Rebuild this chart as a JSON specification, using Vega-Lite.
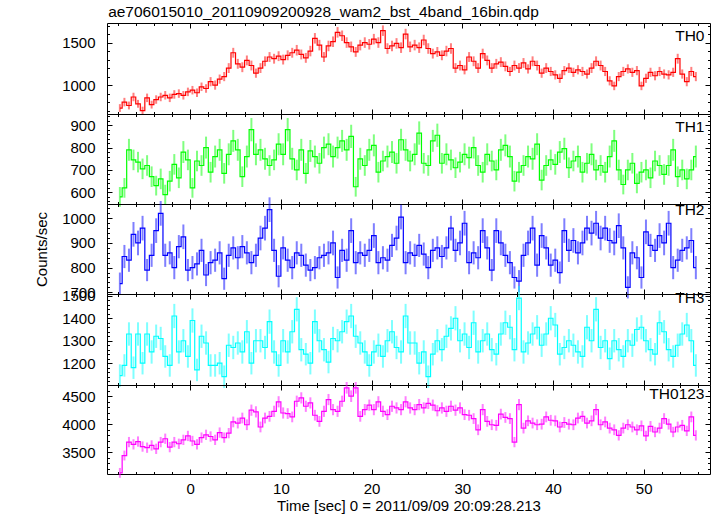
{
"$schema":"https://vega.github.io/schema/vega-lite/v6.json",
"background":"white",
"padding":{"left":34,"top":4,"right":6,"bottom":0},
"bounds":"flush",
"title":{"text":"ae706015010_20110909200928_wam2_bst_4band_16bin.qdp","anchor":"start","dx":74,"offset":2,"font":"Liberation Sans","fontSize":15.5,"fontWeight":"normal","color":"black"},
"config":{"view":{"stroke":"black","strokeWidth":1},"axis":{"domain":false,"grid":false,"tickColor":"black","tickWidth":1,"labelFont":"Liberation Sans","labelFontSize":15,"labelColor":"black","titleFont":"Liberation Sans","titleFontSize":15,"titleFontWeight":"normal","titleColor":"black","labelPadding":17,"format":"d"}},
"spacing":0,
"data":{"values":[
{"t":-7.75,"th0":730,"e0":46,"th1":580,"e1":44,"th2":735,"e2":45,"th3":1145,"e3":50,"sum":3130,"es":88},
{"t":-7.25,"th0":800,"e0":50,"th1":620,"e1":44,"th2":845,"e2":47,"th3":1190,"e3":50,"sum":3440,"es":88},
{"t":-6.75,"th0":760,"e0":46,"th1":790,"e1":49,"th2":830,"e2":47,"th3":1330,"e3":52,"sum":3680,"es":92},
{"t":-6.25,"th0":860,"e0":50,"th1":745,"e1":46,"th2":935,"e2":50,"th3":1180,"e3":50,"sum":3640,"es":92},
{"t":-5.75,"th0":780,"e0":46,"th1":735,"e1":46,"th2":900,"e2":50,"th3":1330,"e3":52,"sum":3690,"es":92},
{"t":-5.25,"th0":700,"e0":46,"th1":705,"e1":46,"th2":960,"e2":50,"th3":1200,"e3":50,"sum":3600,"es":92},
{"t":-4.75,"th0":850,"e0":50,"th1":720,"e1":46,"th2":790,"e2":45,"th3":1330,"e3":52,"sum":3580,"es":92},
{"t":-4.25,"th0":770,"e0":46,"th1":670,"e1":46,"th2":850,"e2":47,"th3":1250,"e3":52,"sum":3620,"es":92},
{"t":-3.75,"th0":830,"e0":50,"th1":630,"e1":44,"th2":950,"e2":50,"th3":1320,"e3":52,"sum":3560,"es":92},
{"t":-3.25,"th0":860,"e0":50,"th1":660,"e1":46,"th2":1020,"e2":50,"th3":1310,"e3":52,"sum":3680,"es":92},
{"t":-2.75,"th0":880,"e0":50,"th1":590,"e1":44,"th2":850,"e2":47,"th3":1230,"e3":50,"sum":3740,"es":92},
{"t":-2.25,"th0":850,"e0":50,"th1":650,"e1":46,"th2":860,"e2":47,"th3":1190,"e3":50,"sum":3590,"es":92},
{"t":-1.75,"th0":890,"e0":50,"th1":725,"e1":46,"th2":800,"e2":47,"th3":1410,"e3":54,"sum":3680,"es":92},
{"t":-1.25,"th0":900,"e0":50,"th1":665,"e1":46,"th2":885,"e2":47,"th3":1250,"e3":52,"sum":3650,"es":92},
{"t":-0.75,"th0":880,"e0":50,"th1":780,"e1":49,"th2":925,"e2":50,"th3":1300,"e3":52,"sum":3720,"es":92},
{"t":-0.25,"th0":920,"e0":50,"th1":745,"e1":46,"th2":790,"e2":45,"th3":1230,"e3":50,"sum":3790,"es":92},
{"t":0.25,"th0":940,"e0":50,"th1":620,"e1":44,"th2":800,"e2":47,"th3":1390,"e3":54,"sum":3700,"es":92},
{"t":0.75,"th0":910,"e0":50,"th1":740,"e1":46,"th2":815,"e2":47,"th3":1170,"e3":50,"sum":3640,"es":92},
{"t":1.25,"th0":980,"e0":50,"th1":720,"e1":46,"th2":870,"e2":47,"th3":1320,"e3":52,"sum":3760,"es":92},
{"t":1.75,"th0":960,"e0":50,"th1":800,"e1":49,"th2":770,"e2":45,"th3":1290,"e3":52,"sum":3810,"es":92},
{"t":2.25,"th0":1040,"e0":54,"th1":690,"e1":46,"th2":820,"e2":47,"th3":1190,"e3":50,"sum":3780,"es":92},
{"t":2.75,"th0":1000,"e0":54,"th1":760,"e1":49,"th2":830,"e2":47,"th3":1190,"e3":50,"sum":3720,"es":92},
{"t":3.25,"th0":1070,"e0":54,"th1":790,"e1":49,"th2":860,"e2":47,"th3":1200,"e3":50,"sum":3850,"es":92},
{"t":3.75,"th0":1100,"e0":54,"th1":685,"e1":46,"th2":755,"e2":45,"th3":1140,"e3":50,"sum":3760,"es":92},
{"t":4.25,"th0":1200,"e0":58,"th1":770,"e1":49,"th2":850,"e2":47,"th3":1280,"e3":52,"sum":3840,"es":92},
{"t":4.75,"th0":1380,"e0":58,"th1":830,"e1":49,"th2":880,"e2":47,"th3":1270,"e3":52,"sum":4040,"es":96},
{"t":5.25,"th0":1250,"e0":58,"th1":790,"e1":49,"th2":840,"e2":47,"th3":1290,"e3":52,"sum":4020,"es":96},
{"t":5.75,"th0":1210,"e0":58,"th1":670,"e1":46,"th2":885,"e2":47,"th3":1250,"e3":52,"sum":4110,"es":96},
{"t":6.25,"th0":1290,"e0":58,"th1":760,"e1":49,"th2":860,"e2":47,"th3":1340,"e3":52,"sum":3990,"es":96},
{"t":6.75,"th0":1230,"e0":58,"th1":880,"e1":52,"th2":820,"e2":47,"th3":1200,"e3":50,"sum":4250,"es":100},
{"t":7.25,"th0":1140,"e0":54,"th1":770,"e1":49,"th2":850,"e2":47,"th3":1300,"e3":52,"sum":4220,"es":100},
{"t":7.75,"th0":1200,"e0":58,"th1":790,"e1":49,"th2":920,"e2":50,"th3":1300,"e3":52,"sum":3950,"es":96},
{"t":8.25,"th0":1280,"e0":58,"th1":750,"e1":49,"th2":960,"e2":50,"th3":1270,"e3":52,"sum":4110,"es":96},
{"t":8.75,"th0":1330,"e0":58,"th1":720,"e1":46,"th2":1035,"e2":50,"th3":1385,"e3":54,"sum":4140,"es":96},
{"t":9.25,"th0":1310,"e0":58,"th1":745,"e1":46,"th2":870,"e2":47,"th3":1250,"e3":52,"sum":4230,"es":100},
{"t":9.75,"th0":1340,"e0":58,"th1":815,"e1":49,"th2":765,"e2":45,"th3":1190,"e3":50,"sum":4400,"es":100},
{"t":10.25,"th0":1300,"e0":58,"th1":770,"e1":49,"th2":880,"e2":47,"th3":1300,"e3":52,"sum":4200,"es":100},
{"t":10.75,"th0":1350,"e0":58,"th1":880,"e1":52,"th2":830,"e2":47,"th3":1250,"e3":52,"sum":4190,"es":96},
{"t":11.25,"th0":1380,"e0":58,"th1":750,"e1":49,"th2":800,"e2":47,"th3":1340,"e3":52,"sum":4130,"es":96},
{"t":11.75,"th0":1410,"e0":62,"th1":700,"e1":46,"th2":860,"e2":47,"th3":1440,"e3":54,"sum":4410,"es":100},
{"t":12.25,"th0":1360,"e0":58,"th1":790,"e1":49,"th2":850,"e2":47,"th3":1260,"e3":52,"sum":4470,"es":100},
{"t":12.75,"th0":1320,"e0":58,"th1":685,"e1":46,"th2":810,"e2":47,"th3":1240,"e3":50,"sum":4320,"es":100},
{"t":13.25,"th0":1400,"e0":62,"th1":785,"e1":49,"th2":790,"e2":45,"th3":1200,"e3":50,"sum":4380,"es":100},
{"t":13.75,"th0":1550,"e0":62,"th1":760,"e1":49,"th2":800,"e2":47,"th3":1385,"e3":54,"sum":4160,"es":96},
{"t":14.25,"th0":1470,"e0":62,"th1":730,"e1":46,"th2":840,"e2":47,"th3":1300,"e3":52,"sum":4050,"es":96},
{"t":14.75,"th0":1330,"e0":58,"th1":800,"e1":49,"th2":850,"e2":47,"th3":1260,"e3":52,"sum":4230,"es":100},
{"t":15.25,"th0":1460,"e0":62,"th1":815,"e1":49,"th2":860,"e2":47,"th3":1205,"e3":50,"sum":4440,"es":100},
{"t":15.75,"th0":1510,"e0":62,"th1":760,"e1":49,"th2":900,"e2":50,"th3":1310,"e3":52,"sum":4260,"es":100},
{"t":16.25,"th0":1620,"e0":62,"th1":800,"e1":49,"th2":760,"e2":45,"th3":1300,"e3":52,"sum":4230,"es":100},
{"t":16.75,"th0":1580,"e0":62,"th1":830,"e1":49,"th2":870,"e2":47,"th3":1340,"e3":52,"sum":4410,"es":100},
{"t":17.25,"th0":1500,"e0":62,"th1":790,"e1":49,"th2":830,"e2":47,"th3":1385,"e3":54,"sum":4650,"es":104},
{"t":17.75,"th0":1450,"e0":62,"th1":850,"e1":52,"th2":950,"e2":50,"th3":1410,"e3":54,"sum":4500,"es":104},
{"t":18.25,"th0":1390,"e0":58,"th1":625,"e1":44,"th2":820,"e2":47,"th3":1320,"e3":52,"sum":4650,"es":104},
{"t":18.75,"th0":1470,"e0":62,"th1":750,"e1":49,"th2":860,"e2":47,"th3":1290,"e3":52,"sum":4140,"es":96},
{"t":19.25,"th0":1500,"e0":62,"th1":720,"e1":46,"th2":850,"e2":47,"th3":1250,"e3":52,"sum":4260,"es":100},
{"t":19.75,"th0":1480,"e0":62,"th1":790,"e1":49,"th2":870,"e2":47,"th3":1190,"e3":50,"sum":4340,"es":100},
{"t":20.25,"th0":1540,"e0":62,"th1":810,"e1":49,"th2":930,"e2":50,"th3":1250,"e3":52,"sum":4260,"es":100},
{"t":20.75,"th0":1500,"e0":62,"th1":690,"e1":46,"th2":820,"e2":47,"th3":1280,"e3":52,"sum":4400,"es":100},
{"t":21.25,"th0":1640,"e0":62,"th1":740,"e1":46,"th2":840,"e2":47,"th3":1230,"e3":50,"sum":4230,"es":100},
{"t":21.75,"th0":1430,"e0":62,"th1":760,"e1":49,"th2":830,"e2":47,"th3":1300,"e3":52,"sum":4170,"es":96},
{"t":22.25,"th0":1460,"e0":62,"th1":780,"e1":49,"th2":890,"e2":47,"th3":1340,"e3":52,"sum":4320,"es":100},
{"t":22.75,"th0":1490,"e0":62,"th1":730,"e1":46,"th2":920,"e2":50,"th3":1270,"e3":52,"sum":4290,"es":100},
{"t":23.25,"th0":1440,"e0":62,"th1":835,"e1":49,"th2":1005,"e2":50,"th3":1250,"e3":52,"sum":4260,"es":100},
{"t":23.75,"th0":1600,"e0":62,"th1":790,"e1":49,"th2":820,"e2":47,"th3":1410,"e3":54,"sum":4400,"es":100},
{"t":24.25,"th0":1450,"e0":62,"th1":740,"e1":46,"th2":860,"e2":47,"th3":1290,"e3":52,"sum":4290,"es":100},
{"t":24.75,"th0":1470,"e0":62,"th1":770,"e1":49,"th2":850,"e2":47,"th3":1290,"e3":52,"sum":4260,"es":100},
{"t":25.25,"th0":1440,"e0":62,"th1":865,"e1":52,"th2":890,"e2":47,"th3":1200,"e3":50,"sum":4350,"es":100},
{"t":25.75,"th0":1530,"e0":62,"th1":730,"e1":46,"th2":855,"e2":47,"th3":1250,"e3":52,"sum":4290,"es":100},
{"t":26.25,"th0":1430,"e0":62,"th1":720,"e1":46,"th2":800,"e2":47,"th3":1140,"e3":50,"sum":4370,"es":100},
{"t":26.75,"th0":1370,"e0":58,"th1":830,"e1":49,"th2":870,"e2":47,"th3":1240,"e3":50,"sum":4340,"es":100},
{"t":27.25,"th0":1390,"e0":58,"th1":855,"e1":52,"th2":880,"e2":47,"th3":1300,"e3":52,"sum":4240,"es":100},
{"t":27.75,"th0":1350,"e0":58,"th1":730,"e1":46,"th2":845,"e2":47,"th3":1260,"e3":52,"sum":4290,"es":100},
{"t":28.25,"th0":1400,"e0":62,"th1":770,"e1":49,"th2":880,"e2":47,"th3":1320,"e3":52,"sum":4230,"es":100},
{"t":28.75,"th0":1430,"e0":62,"th1":745,"e1":46,"th2":960,"e2":50,"th3":1355,"e3":54,"sum":4320,"es":100},
{"t":29.25,"th0":1200,"e0":58,"th1":710,"e1":46,"th2":870,"e2":47,"th3":1400,"e3":54,"sum":4250,"es":100},
{"t":29.75,"th0":1230,"e0":58,"th1":735,"e1":46,"th2":900,"e2":50,"th3":1300,"e3":52,"sum":4290,"es":100},
{"t":30.25,"th0":1180,"e0":54,"th1":770,"e1":49,"th2":980,"e2":50,"th3":1330,"e3":52,"sum":4170,"es":96},
{"t":30.75,"th0":1330,"e0":58,"th1":755,"e1":49,"th2":820,"e2":47,"th3":1270,"e3":52,"sum":4160,"es":96},
{"t":31.25,"th0":1280,"e0":58,"th1":800,"e1":49,"th2":860,"e2":47,"th3":1380,"e3":54,"sum":4100,"es":96},
{"t":31.75,"th0":1200,"e0":58,"th1":720,"e1":46,"th2":840,"e2":47,"th3":1250,"e3":52,"sum":3900,"es":96},
{"t":32.25,"th0":1370,"e0":58,"th1":690,"e1":46,"th2":950,"e2":50,"th3":1300,"e3":52,"sum":4260,"es":100},
{"t":32.75,"th0":1290,"e0":58,"th1":770,"e1":49,"th2":880,"e2":47,"th3":1330,"e3":52,"sum":4050,"es":96},
{"t":33.25,"th0":1200,"e0":58,"th1":740,"e1":46,"th2":790,"e2":45,"th3":1260,"e3":52,"sum":3990,"es":96},
{"t":33.75,"th0":1250,"e0":58,"th1":700,"e1":46,"th2":950,"e2":50,"th3":1240,"e3":50,"sum":3980,"es":96},
{"t":34.25,"th0":1270,"e0":58,"th1":790,"e1":49,"th2":900,"e2":50,"th3":1330,"e3":52,"sum":4180,"es":96},
{"t":34.75,"th0":1220,"e0":58,"th1":810,"e1":49,"th2":850,"e2":47,"th3":1380,"e3":54,"sum":4120,"es":96},
{"t":35.25,"th0":1160,"e0":54,"th1":760,"e1":49,"th2":820,"e2":47,"th3":1360,"e3":54,"sum":4100,"es":96},
{"t":35.75,"th0":1230,"e0":58,"th1":650,"e1":46,"th2":760,"e2":45,"th3":1260,"e3":52,"sum":3680,"es":92},
{"t":36.25,"th0":1200,"e0":58,"th1":690,"e1":46,"th2":745,"e2":45,"th3":1490,"e3":54,"sum":4350,"es":100},
{"t":36.75,"th0":1260,"e0":58,"th1":720,"e1":46,"th2":850,"e2":47,"th3":1250,"e3":52,"sum":3930,"es":96},
{"t":37.25,"th0":1190,"e0":54,"th1":760,"e1":49,"th2":900,"e2":50,"th3":1290,"e3":52,"sum":4060,"es":96},
{"t":37.75,"th0":1280,"e0":58,"th1":750,"e1":49,"th2":960,"e2":50,"th3":1330,"e3":52,"sum":4020,"es":96},
{"t":38.25,"th0":1230,"e0":58,"th1":815,"e1":49,"th2":810,"e2":47,"th3":1360,"e3":54,"sum":3990,"es":96},
{"t":38.75,"th0":1140,"e0":54,"th1":655,"e1":46,"th2":930,"e2":50,"th3":1280,"e3":52,"sum":4000,"es":96},
{"t":39.25,"th0":1200,"e0":58,"th1":720,"e1":46,"th2":880,"e2":47,"th3":1330,"e3":52,"sum":4130,"es":96},
{"t":39.75,"th0":1160,"e0":54,"th1":745,"e1":46,"th2":810,"e2":47,"th3":1400,"e3":54,"sum":4070,"es":96},
{"t":40.25,"th0":1120,"e0":54,"th1":725,"e1":46,"th2":830,"e2":47,"th3":1370,"e3":54,"sum":4060,"es":96},
{"t":40.75,"th0":1080,"e0":54,"th1":780,"e1":49,"th2":780,"e2":45,"th3":1240,"e3":50,"sum":3950,"es":96},
{"t":41.25,"th0":1170,"e0":54,"th1":795,"e1":49,"th2":950,"e2":50,"th3":1270,"e3":52,"sum":4030,"es":96},
{"t":41.75,"th0":1200,"e0":58,"th1":710,"e1":46,"th2":870,"e2":47,"th3":1300,"e3":52,"sum":4000,"es":96},
{"t":42.25,"th0":1150,"e0":54,"th1":740,"e1":46,"th2":910,"e2":50,"th3":1280,"e3":52,"sum":3990,"es":96},
{"t":42.75,"th0":1180,"e0":54,"th1":760,"e1":49,"th2":860,"e2":47,"th3":1250,"e3":52,"sum":4110,"es":96},
{"t":43.25,"th0":1160,"e0":54,"th1":690,"e1":46,"th2":900,"e2":50,"th3":1230,"e3":50,"sum":4140,"es":96},
{"t":43.75,"th0":1130,"e0":54,"th1":730,"e1":46,"th2":960,"e2":50,"th3":1360,"e3":54,"sum":4020,"es":96},
{"t":44.25,"th0":1200,"e0":58,"th1":770,"e1":49,"th2":940,"e2":50,"th3":1300,"e3":52,"sum":4060,"es":96},
{"t":44.75,"th0":1280,"e0":58,"th1":700,"e1":46,"th2":980,"e2":50,"th3":1440,"e3":54,"sum":4260,"es":100},
{"t":45.25,"th0":1230,"e0":58,"th1":720,"e1":46,"th2":920,"e2":50,"th3":1270,"e3":52,"sum":3990,"es":96},
{"t":45.75,"th0":1160,"e0":54,"th1":690,"e1":46,"th2":960,"e2":50,"th3":1300,"e3":52,"sum":4040,"es":96},
{"t":46.25,"th0":1050,"e0":54,"th1":760,"e1":49,"th2":910,"e2":50,"th3":1220,"e3":50,"sum":3930,"es":96},
{"t":46.75,"th0":990,"e0":50,"th1":830,"e1":49,"th2":900,"e2":50,"th3":1300,"e3":52,"sum":3900,"es":96},
{"t":47.25,"th0":1100,"e0":54,"th1":700,"e1":46,"th2":970,"e2":50,"th3":1260,"e3":52,"sum":3800,"es":92},
{"t":47.75,"th0":1160,"e0":54,"th1":635,"e1":44,"th2":880,"e2":47,"th3":1230,"e3":50,"sum":3930,"es":96},
{"t":48.25,"th0":1190,"e0":54,"th1":700,"e1":46,"th2":720,"e2":45,"th3":1300,"e3":52,"sum":3990,"es":96},
{"t":48.75,"th0":1150,"e0":54,"th1":730,"e1":46,"th2":860,"e2":47,"th3":1280,"e3":52,"sum":3950,"es":96},
{"t":49.25,"th0":1170,"e0":54,"th1":640,"e1":44,"th2":840,"e2":47,"th3":1350,"e3":54,"sum":3900,"es":96},
{"t":49.75,"th0":990,"e0":50,"th1":690,"e1":46,"th2":760,"e2":45,"th3":1360,"e3":54,"sum":3970,"es":96},
{"t":50.25,"th0":1080,"e0":54,"th1":700,"e1":46,"th2":945,"e2":50,"th3":1300,"e3":52,"sum":3790,"es":92},
{"t":50.75,"th0":1150,"e0":54,"th1":665,"e1":46,"th2":890,"e2":47,"th3":1260,"e3":52,"sum":3960,"es":96},
{"t":51.25,"th0":1110,"e0":54,"th1":740,"e1":46,"th2":870,"e2":47,"th3":1240,"e3":50,"sum":3860,"es":92},
{"t":51.75,"th0":1160,"e0":54,"th1":720,"e1":46,"th2":930,"e2":50,"th3":1380,"e3":54,"sum":3930,"es":96},
{"t":52.25,"th0":1130,"e0":54,"th1":680,"e1":46,"th2":900,"e2":50,"th3":1340,"e3":52,"sum":4100,"es":96},
{"t":52.75,"th0":1120,"e0":54,"th1":720,"e1":46,"th2":980,"e2":50,"th3":1260,"e3":52,"sum":4000,"es":96},
{"t":53.25,"th0":1150,"e0":54,"th1":790,"e1":49,"th2":800,"e2":47,"th3":1230,"e3":50,"sum":3860,"es":92},
{"t":53.75,"th0":1310,"e0":58,"th1":670,"e1":46,"th2":830,"e2":47,"th3":1280,"e3":52,"sum":3950,"es":96},
{"t":54.25,"th0":1130,"e0":54,"th1":700,"e1":46,"th2":870,"e2":47,"th3":1330,"e3":52,"sum":3980,"es":96},
{"t":54.75,"th0":1040,"e0":54,"th1":660,"e1":46,"th2":880,"e2":47,"th3":1370,"e3":54,"sum":3880,"es":92},
{"t":55.25,"th0":1160,"e0":54,"th1":700,"e1":46,"th2":910,"e2":50,"th3":1300,"e3":52,"sum":4130,"es":96},
{"t":55.75,"th0":1100,"e0":54,"th1":760,"e1":49,"th2":800,"e2":47,"th3":1190,"e3":50,"sum":3800,"es":92}
]},
"vconcat":[
{"width":603,"height":91,
 "title":{"text":"TH0","orient":"top","anchor":"end","offset":-22,"dx":-6,"font":"Liberation Sans","fontSize":15.5,"fontWeight":"normal","color":"black"},
 "layer":[
  {"mark":{"type":"errorbar","color":"#ff0000","opacity":0.5,"thickness":2},
   "encoding":{"x":{"field":"t","type":"quantitative","scale":{"domain":[-9.17,57.31],"nice":false,"zero":false},"axis":{"orient":"bottom","values":[0,10,20,30,40,50],"labels":false,"tickSize":-5,"title":null}},
    "y":{"field":"th0","type":"quantitative","scale":{"domain":[660,1730],"nice":false,"zero":false},"axis":{"orient":"left","values":[1000,1500],"tickSize":-5,"title":null}},
    "yError":{"field":"e0"}}},
  {"mark":{"type":"line","interpolate":"step","color":"#ff0000","strokeWidth":1.2},
   "encoding":{"x":{"field":"t","type":"quantitative","scale":{"domain":[-9.17,57.31],"nice":false,"zero":false},"axis":{"orient":"top","values":[0,10,20,30,40,50],"labels":false,"tickSize":-5,"title":null}},
    "y":{"field":"th0","type":"quantitative","scale":{"domain":[660,1730],"nice":false,"zero":false},"axis":{"orient":"right","values":[1000,1500],"labels":false,"tickSize":-5,"title":null}}}},
  {"mark":{"type":"point","opacity":0},
   "encoding":{"x":{"field":"t","type":"quantitative","scale":{"domain":[-9.17,57.31],"nice":false,"zero":false},"axis":{"orient":"bottom","values":[-8,-6,-4,-2,2,4,6,8,12,14,16,18,22,24,26,28,32,34,36,38,42,44,46,48,52,54,56],"labels":false,"tickSize":-2.5,"title":null}},
    "y":{"field":"th0","type":"quantitative","scale":{"domain":[660,1730],"nice":false,"zero":false},"axis":{"orient":"left","values":[700,800,900,1100,1200,1300,1400,1600,1700],"labels":false,"tickSize":-2.5,"title":null}}}},
  {"mark":{"type":"point","opacity":0},
   "encoding":{"x":{"field":"t","type":"quantitative","scale":{"domain":[-9.17,57.31],"nice":false,"zero":false},"axis":{"orient":"top","values":[-8,-6,-4,-2,2,4,6,8,12,14,16,18,22,24,26,28,32,34,36,38,42,44,46,48,52,54,56],"labels":false,"tickSize":-2.5,"title":null}},
    "y":{"field":"th0","type":"quantitative","scale":{"domain":[660,1730],"nice":false,"zero":false},"axis":{"orient":"right","values":[700,800,900,1100,1200,1300,1400,1600,1700],"labels":false,"tickSize":-2.5,"title":null}}}}
 ],
 "resolve":{"axis":{"x":"independent","y":"independent"}}},
{"width":603,"height":90,
 "title":{"text":"TH1","orient":"top","anchor":"end","offset":-22,"dx":-6,"font":"Liberation Sans","fontSize":15.5,"fontWeight":"normal","color":"black"},
 "layer":[
  {"mark":{"type":"errorbar","color":"#00ff00","opacity":0.5,"thickness":2},
   "encoding":{"x":{"field":"t","type":"quantitative","scale":{"domain":[-9.17,57.31],"nice":false,"zero":false},"axis":{"orient":"bottom","values":[0,10,20,30,40,50],"labels":false,"tickSize":-5,"title":null}},
    "y":{"field":"th1","type":"quantitative","scale":{"domain":[548,950],"nice":false,"zero":false},"axis":{"orient":"left","values":[600,700,800,900],"tickSize":-5,"title":null}},
    "yError":{"field":"e1"}}},
  {"mark":{"type":"line","interpolate":"step","color":"#00ff00","strokeWidth":1.2},
   "encoding":{"x":{"field":"t","type":"quantitative","scale":{"domain":[-9.17,57.31],"nice":false,"zero":false},"axis":{"orient":"top","values":[0,10,20,30,40,50],"labels":false,"tickSize":-5,"title":null}},
    "y":{"field":"th1","type":"quantitative","scale":{"domain":[548,950],"nice":false,"zero":false},"axis":{"orient":"right","values":[600,700,800,900],"labels":false,"tickSize":-5,"title":null}}}},
  {"mark":{"type":"point","opacity":0},
   "encoding":{"x":{"field":"t","type":"quantitative","scale":{"domain":[-9.17,57.31],"nice":false,"zero":false},"axis":{"orient":"bottom","values":[-8,-6,-4,-2,2,4,6,8,12,14,16,18,22,24,26,28,32,34,36,38,42,44,46,48,52,54,56],"labels":false,"tickSize":-2.5,"title":null}},
    "y":{"field":"th1","type":"quantitative","scale":{"domain":[548,950],"nice":false,"zero":false},"axis":{"orient":"left","values":[560,580,620,640,660,680,720,740,760,780,820,840,860,880,920,940],"labels":false,"tickSize":-2.5,"title":null}}}},
  {"mark":{"type":"point","opacity":0},
   "encoding":{"x":{"field":"t","type":"quantitative","scale":{"domain":[-9.17,57.31],"nice":false,"zero":false},"axis":{"orient":"top","values":[-8,-6,-4,-2,2,4,6,8,12,14,16,18,22,24,26,28,32,34,36,38,42,44,46,48,52,54,56],"labels":false,"tickSize":-2.5,"title":null}},
    "y":{"field":"th1","type":"quantitative","scale":{"domain":[548,950],"nice":false,"zero":false},"axis":{"orient":"right","values":[560,580,620,640,660,680,720,740,760,780,820,840,860,880,920,940],"labels":false,"tickSize":-2.5,"title":null}}}}
 ],
 "resolve":{"axis":{"x":"independent","y":"independent"}}},
{"width":603,"height":90,
 "title":{"text":"TH2","orient":"top","anchor":"end","offset":-22,"dx":-6,"font":"Liberation Sans","fontSize":15.5,"fontWeight":"normal","color":"black"},
 "layer":[
  {"mark":{"type":"errorbar","color":"#0000ff","opacity":0.5,"thickness":2},
   "encoding":{"x":{"field":"t","type":"quantitative","scale":{"domain":[-9.17,57.31],"nice":false,"zero":false},"axis":{"orient":"bottom","values":[0,10,20,30,40,50],"labels":false,"tickSize":-5,"title":null}},
    "y":{"field":"th2","type":"quantitative","scale":{"domain":[693,1058],"nice":false,"zero":false},"axis":{"orient":"left","values":[700,800,900,1000],"tickSize":-5,"title":"Counts/sec","titlePadding":12}},
    "yError":{"field":"e2"}}},
  {"mark":{"type":"line","interpolate":"step","color":"#0000ff","strokeWidth":1.2},
   "encoding":{"x":{"field":"t","type":"quantitative","scale":{"domain":[-9.17,57.31],"nice":false,"zero":false},"axis":{"orient":"top","values":[0,10,20,30,40,50],"labels":false,"tickSize":-5,"title":null}},
    "y":{"field":"th2","type":"quantitative","scale":{"domain":[693,1058],"nice":false,"zero":false},"axis":{"orient":"right","values":[700,800,900,1000],"labels":false,"tickSize":-5,"title":null}}}},
  {"mark":{"type":"point","opacity":0},
   "encoding":{"x":{"field":"t","type":"quantitative","scale":{"domain":[-9.17,57.31],"nice":false,"zero":false},"axis":{"orient":"bottom","values":[-8,-6,-4,-2,2,4,6,8,12,14,16,18,22,24,26,28,32,34,36,38,42,44,46,48,52,54,56],"labels":false,"tickSize":-2.5,"title":null}},
    "y":{"field":"th2","type":"quantitative","scale":{"domain":[693,1058],"nice":false,"zero":false},"axis":{"orient":"left","values":[720,740,760,780,820,840,860,880,920,940,960,980,1020,1040],"labels":false,"tickSize":-2.5,"title":null}}}},
  {"mark":{"type":"point","opacity":0},
   "encoding":{"x":{"field":"t","type":"quantitative","scale":{"domain":[-9.17,57.31],"nice":false,"zero":false},"axis":{"orient":"top","values":[-8,-6,-4,-2,2,4,6,8,12,14,16,18,22,24,26,28,32,34,36,38,42,44,46,48,52,54,56],"labels":false,"tickSize":-2.5,"title":null}},
    "y":{"field":"th2","type":"quantitative","scale":{"domain":[693,1058],"nice":false,"zero":false},"axis":{"orient":"right","values":[720,740,760,780,820,840,860,880,920,940,960,980,1020,1040],"labels":false,"tickSize":-2.5,"title":null}}}}
 ],
 "resolve":{"axis":{"x":"independent","y":"independent"}}},
{"width":603,"height":91,
 "title":{"text":"TH3","orient":"top","anchor":"end","offset":-22,"dx":-6,"font":"Liberation Sans","fontSize":15.5,"fontWeight":"normal","color":"black"},
 "layer":[
  {"mark":{"type":"errorbar","color":"#00ffff","opacity":0.5,"thickness":2},
   "encoding":{"x":{"field":"t","type":"quantitative","scale":{"domain":[-9.17,57.31],"nice":false,"zero":false},"axis":{"orient":"bottom","values":[0,10,20,30,40,50],"labels":false,"tickSize":-5,"title":null}},
    "y":{"field":"th3","type":"quantitative","scale":{"domain":[1103,1508],"nice":false,"zero":false},"axis":{"orient":"left","values":[1200,1300,1400,1500],"tickSize":-5,"title":null}},
    "yError":{"field":"e3"}}},
  {"mark":{"type":"line","interpolate":"step","color":"#00ffff","strokeWidth":1.2},
   "encoding":{"x":{"field":"t","type":"quantitative","scale":{"domain":[-9.17,57.31],"nice":false,"zero":false},"axis":{"orient":"top","values":[0,10,20,30,40,50],"labels":false,"tickSize":-5,"title":null}},
    "y":{"field":"th3","type":"quantitative","scale":{"domain":[1103,1508],"nice":false,"zero":false},"axis":{"orient":"right","values":[1200,1300,1400,1500],"labels":false,"tickSize":-5,"title":null}}}},
  {"mark":{"type":"point","opacity":0},
   "encoding":{"x":{"field":"t","type":"quantitative","scale":{"domain":[-9.17,57.31],"nice":false,"zero":false},"axis":{"orient":"bottom","values":[-8,-6,-4,-2,2,4,6,8,12,14,16,18,22,24,26,28,32,34,36,38,42,44,46,48,52,54,56],"labels":false,"tickSize":-2.5,"title":null}},
    "y":{"field":"th3","type":"quantitative","scale":{"domain":[1103,1508],"nice":false,"zero":false},"axis":{"orient":"left","values":[1120,1140,1160,1180,1220,1240,1260,1280,1320,1340,1360,1380,1420,1440,1460,1480],"labels":false,"tickSize":-2.5,"title":null}}}},
  {"mark":{"type":"point","opacity":0},
   "encoding":{"x":{"field":"t","type":"quantitative","scale":{"domain":[-9.17,57.31],"nice":false,"zero":false},"axis":{"orient":"top","values":[-8,-6,-4,-2,2,4,6,8,12,14,16,18,22,24,26,28,32,34,36,38,42,44,46,48,52,54,56],"labels":false,"tickSize":-2.5,"title":null}},
    "y":{"field":"th3","type":"quantitative","scale":{"domain":[1103,1508],"nice":false,"zero":false},"axis":{"orient":"right","values":[1120,1140,1160,1180,1220,1240,1260,1280,1320,1340,1360,1380,1420,1440,1460,1480],"labels":false,"tickSize":-2.5,"title":null}}}}
 ],
 "resolve":{"axis":{"x":"independent","y":"independent"}}},
{"width":603,"height":89,
 "title":{"text":"TH0123","orient":"top","anchor":"end","offset":-22,"dx":-6,"font":"Liberation Sans","fontSize":15.5,"fontWeight":"normal","color":"black"},
 "layer":[
  {"mark":{"type":"errorbar","color":"#ff00ff","opacity":0.5,"thickness":2},
   "encoding":{"x":{"field":"t","type":"quantitative","scale":{"domain":[-9.17,57.31],"nice":false,"zero":false},"axis":{"orient":"bottom","values":[0,10,20,30,40,50],"tickSize":-5,"labelPadding":12,"title":"Time [sec] 0 = 2011/09/09 20:09:28.213","titlePadding":2}},
    "y":{"field":"sum","type":"quantitative","scale":{"domain":[3110,4700],"nice":false,"zero":false},"axis":{"orient":"left","values":[3500,4000,4500],"tickSize":-5,"title":null}},
    "yError":{"field":"es"}}},
  {"mark":{"type":"line","interpolate":"step","color":"#ff00ff","strokeWidth":1.2},
   "encoding":{"x":{"field":"t","type":"quantitative","scale":{"domain":[-9.17,57.31],"nice":false,"zero":false},"axis":{"orient":"top","values":[0,10,20,30,40,50],"labels":false,"tickSize":-5,"title":null}},
    "y":{"field":"sum","type":"quantitative","scale":{"domain":[3110,4700],"nice":false,"zero":false},"axis":{"orient":"right","values":[3500,4000,4500],"labels":false,"tickSize":-5,"title":null}}}},
  {"mark":{"type":"point","opacity":0},
   "encoding":{"x":{"field":"t","type":"quantitative","scale":{"domain":[-9.17,57.31],"nice":false,"zero":false},"axis":{"orient":"bottom","values":[-8,-6,-4,-2,2,4,6,8,12,14,16,18,22,24,26,28,32,34,36,38,42,44,46,48,52,54,56],"labels":false,"tickSize":-2.5,"title":null}},
    "y":{"field":"sum","type":"quantitative","scale":{"domain":[3110,4700],"nice":false,"zero":false},"axis":{"orient":"left","values":[3200,3300,3400,3600,3700,3800,3900,4100,4200,4300,4400,4600],"labels":false,"tickSize":-2.5,"title":null}}}},
  {"mark":{"type":"point","opacity":0},
   "encoding":{"x":{"field":"t","type":"quantitative","scale":{"domain":[-9.17,57.31],"nice":false,"zero":false},"axis":{"orient":"top","values":[-8,-6,-4,-2,2,4,6,8,12,14,16,18,22,24,26,28,32,34,36,38,42,44,46,48,52,54,56],"labels":false,"tickSize":-2.5,"title":null}},
    "y":{"field":"sum","type":"quantitative","scale":{"domain":[3110,4700],"nice":false,"zero":false},"axis":{"orient":"right","values":[3200,3300,3400,3600,3700,3800,3900,4100,4200,4300,4400,4600],"labels":false,"tickSize":-2.5,"title":null}}}}
 ],
 "resolve":{"axis":{"x":"independent","y":"independent"}}}
]
}
